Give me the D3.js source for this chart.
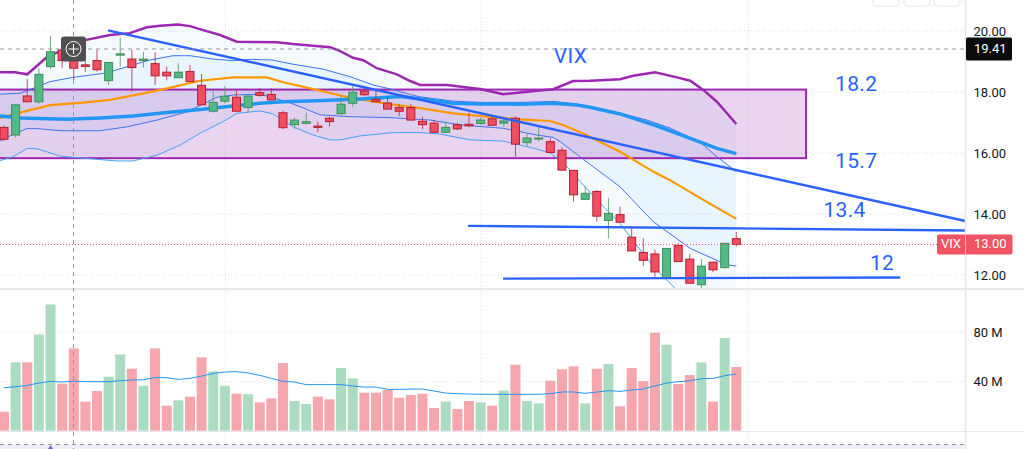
<!DOCTYPE html>
<html>
<head>
<meta charset="utf-8">
<script src="https://cdn.jsdelivr.net/npm/d3@7"></script>
<style>
    html, body { margin: 0; padding: 0; background: #fff; overflow: hidden; }
    svg { display: block; }
</style>
</head>
<body>
<svg id="world" width="1024" height="449"></svg>
<script>
'use strict';

// Candles
var opens = [16.84,16.59,17.87,17.68,18.83,19.38,19.18,18.89,19.03,18.37,19.21,19.08,19.03,18.93,18.65,18.47,18.67,18.22,17.37,17.70,17.83,17.49,17.98,17.92,17.32,16.93,16.97,16.88,17.14,17.29,17.63,18.03,17.76,17.64,17.49,17.49,17.04,16.98,16.68,16.93,16.94,16.97,17.12,16.98,17.14,16.34,16.46,16.37,16.09,15.43,14.48,14.74,13.79,13.98,13.24,12.74,12.69,11.92,12.97,12.52,11.68,12.42,12.24,13.19];
var highs = [16.90,17.58,18.42,18.78,19.84,19.50,19.40,19.21,19.40,18.97,19.79,19.38,19.32,19.30,18.83,18.94,18.89,18.59,18.07,18.20,18.04,17.87,18.13,18.12,17.39,17.16,17.32,17.03,17.19,17.90,18.21,18.20,18.10,17.85,17.60,17.60,17.19,17.08,17.03,16.99,17.32,17.16,17.21,17.19,17.21,16.65,16.86,16.48,16.19,15.43,14.92,14.79,14.53,14.24,13.55,13.20,12.84,12.87,13.04,12.69,12.52,12.42,13.04,13.41];
var lows = [16.40,16.51,17.68,17.61,18.75,18.78,18.39,18.66,18.67,18.23,18.83,18.01,18.80,18.23,18.39,18.45,18.34,17.58,17.32,17.63,17.37,17.32,17.85,17.74,16.78,16.78,16.94,16.68,16.86,17.24,17.50,17.87,17.68,17.44,17.21,17.08,16.78,16.68,16.67,16.75,16.86,16.92,16.91,16.86,15.88,16.21,16.37,16.02,15.41,14.40,14.48,13.75,13.20,13.73,12.79,12.30,11.94,11.92,12.44,11.73,11.56,12.09,12.22,12.93];
var closes = [16.45,17.58,17.68,18.58,19.32,19.03,18.78,18.84,18.73,18.97,19.25,18.80,19.08,18.53,18.53,18.65,18.34,17.58,17.66,17.86,17.37,17.87,17.89,17.74,16.83,17.08,17.03,16.84,17.03,17.60,17.99,17.91,17.68,17.44,17.37,17.08,16.93,16.68,16.84,16.79,16.89,17.08,16.91,17.05,16.29,16.49,16.49,16.02,15.44,14.63,14.68,13.93,14.02,13.73,12.79,12.48,12.10,12.87,12.44,11.73,12.29,12.17,13.04,13.00];

// Volume in millions, and its moving average
var volumes = [15.5,55.8,55.8,78.6,103.1,38.4,67.2,23.7,32.4,44.1,62.3,50.6,36.7,67.2,20.4,24.8,27.8,59.9,48.4,36.7,30.2,29.7,23.1,26.4,55.2,24.2,21.8,27.8,25.6,51.2,42.7,31,31,33.2,26.9,29.1,30.2,18.5,23.7,17.7,24.2,23.1,20.4,32.9,53.9,24.2,22.3,40.8,50.1,52.5,22.3,50.6,54.4,19.9,51.2,40.5,80,70.2,38.1,45.4,55.8,23.7,75.6,52];
var volumeAverage = [35.1,35.9,37,38.9,40.3,39.7,40.5,40,40,40,40.8,41.4,41.6,43.5,43.3,41.9,42.7,44.6,46.8,47.9,48.2,47.1,45.2,42.7,40.3,39.7,37.6,37.6,37.6,37.6,36.5,35.6,35.6,33.7,33.7,34,34,32.4,30.7,30.2,29.9,29.7,29.7,29.7,29.7,29.7,29.7,30.2,31.6,31.6,30.5,31.6,32.7,32.1,33.2,34,36.5,38.9,40,40.8,42.4,42.7,44.9,46.3];

// Overlay lines as [bar, price]
var outerUpper = [[-0.34,18.65],[0.95,18.65],[2,18.58],[3.67,19.14],[5.68,19.49],[6.97,19.7],[9.12,19.87],[10.84,19.93],[12.28,20.12],[13.43,20.17],[14.97,20.21],[16,20.16],[17.13,20.03],[18.59,19.87],[20.03,19.65],[23.47,19.63],[24.87,19.57],[28.06,19.47],[28.92,19.34],[30.03,19.12],[30.9,19.04],[32.07,18.78],[33.8,18.58],[34.94,18.36],[35.8,18.23],[38.1,18.23],[40.96,18.1],[42.94,17.93],[45.84,18.04],[47.25,18.09],[48.97,18.36],[50.43,18.37],[53,18.42],[54.13,18.53],[56.02,18.65],[57.89,18.48],[59.04,18.37],[60.15,18.07],[61.33,17.68],[63,16.95]];
var innerUpper = [[-0.34,17.93],[1.38,17.96],[2.5,18.12],[3.96,18.34],[5.94,18.48],[8.86,18.63],[10.6,18.83],[12.56,19.05],[14.54,19.19],[16,19.19],[17.99,19.08],[19.71,19.03],[21.17,19.07],[23.04,19.05],[24.87,18.91],[27.45,18.75],[29.78,18.5],[31.76,18.23],[33.22,18.1],[34.94,17.92],[35.8,17.84],[38.64,17.7],[40.96,17.66],[44.4,17.66],[47.25,17.69],[49.31,17.61],[50.43,17.52],[53,17.31],[55.3,17.08],[57.3,16.82],[59.9,16.35],[61.33,15.88],[63,15.39]];
var basisLine = [[-0.34,17.21],[1.38,17.15],[5.42,17.11],[8.26,17.15],[11.1,17.21],[14.03,17.33],[16.87,17.43],[19.71,17.54],[22.03,17.63],[24.01,17.68],[26.9,17.71],[30.64,17.77],[34.08,17.85],[36.66,17.74],[38.64,17.63],[40.96,17.61],[44.4,17.6],[47.25,17.63],[49.31,17.57],[50.43,17.5],[53,17.28],[56.16,16.89],[59.04,16.48],[61.33,16.15],[63,15.98]];
var orangeLine = [[-0.34,17.15],[0.69,17.26],[3.96,17.57],[6.8,17.65],[9.12,17.74],[11.7,17.93],[14.03,18.12],[16.87,18.37],[19.71,18.48],[22.61,18.48],[24.01,18.32],[26.9,18.07],[29.78,17.81],[32.62,17.63],[35.8,17.47],[38.64,17.3],[41.55,17.19],[44.4,17.1],[47,17.05],[48.1,16.92],[49.83,16.64],[53,16.04],[55.85,15.39],[57.3,15.11],[59.9,14.52],[63,13.84]];
var innerLower = [[-0.34,16.39],[0.26,16.52],[1.98,16.8],[2.84,16.8],[4.82,16.73],[8.26,16.73],[10.6,16.86],[13.17,17.08],[15.75,17.35],[18.33,17.83],[19.71,17.9],[22.03,17.93],[24.33,17.68],[25.73,17.48],[27.2,17.25],[29.78,17.19],[33.22,17.16],[36.66,17.08],[39.24,16.92],[42.94,16.81],[45.84,16.59],[47.25,16.51],[47.85,16.37],[50.69,15.55],[53,14.89],[55.85,13.75],[59.04,12.87],[62.2,12.33],[63,12.29]];
var outerLower = [[-0.34,15.75],[0.77,15.88],[2,16.15],[2.84,16.14],[4.82,15.9],[6.8,15.83],[9.72,15.74],[11.1,15.74],[13.17,15.93],[15.15,16.26],[16.87,16.65],[18.85,17.03],[20.05,17.3],[22.03,17.38],[23.15,17.28],[24.87,16.86],[26.6,16.59],[28.06,16.43],[28.92,16.43],[30.64,16.56],[33.48,16.67],[35.8,16.67],[37.52,16.62],[40.1,16.43],[42.94,16.39],[45.53,16.16],[47,16],[48.43,15.55],[49.57,15.06],[51.44,14.29],[53,13.69],[54.73,12.82],[56.16,12.16],[57.74,11.56],[63,10.52]];

// Hand drawn lines and box
var trendLine = [[8.95,20.02],[82.7,13.77]];
var supportLine = [[39.93,13.61],[82.7,13.46]];
var floorLine = [[42.94,11.88],[77.1,11.92]];
var boxBars = [-1,69];
var boxPrices = [18.08,15.83];

// Tick labels and notes
var priceTicks = [20,18,16,14,12];
var volumeTicks = [80,40];
var gridBars = [19,41,64];
var notes = [
    {text: 'VIX', bar: 47.3, price: 18.95},
    {text: '18.2', bar: 71.5, price: 18.03},
    {text: '15.7', bar: 71.5, price: 15.5},
    {text: '13.4', bar: 70.5, price: 13.9},
    {text: '12', bar: 74.5, price: 12.17}
];
var crosshairPrice = 19.41;
var lastPrice = 13.00;

var W = 1024,
    H = 449,
    AXIS_X = 965.5,
    PANE_BOTTOM = 289,
    BLUE = '#2962ff';

var x = d3.scaleLinear().domain([0, 63]).range([4, 736.3]),
    y = d3.scaleLinear().domain([20, 12]).range([31, 275]),
    v = d3.scaleLinear().domain([0, 80]).range([430.7, 332.7]);

var world = d3.select('#world');

var priceLine = d3.line()
    .x(function (d) { return x(d[0]); })
    .y(function (d) { return y(d[1]); });

function isUp(i) {
    return closes[i] >= opens[i];
}

function drawBase() {
    world.append('rect')
        .attr('x', 0).attr('y', 0)
        .attr('width', W).attr('height', H)
        .attr('fill', '#fff');

    // Strip at the bottom of the pane
    world.append('rect')
        .attr('x', 0).attr('y', 444.5)
        .attr('width', AXIS_X).attr('height', 5)
        .attr('fill', '#f1eef9');

    var grid = world.append('g')
        .attr('stroke', '#dcdfe6')
        .attr('stroke-dasharray', '1 2');

    grid.selectAll('.price-grid').data(priceTicks).enter().append('line')
        .attr('x1', 0).attr('x2', AXIS_X)
        .attr('y1', function (d) { return y(d); })
        .attr('y2', function (d) { return y(d); });

    grid.selectAll('.volume-grid').data(volumeTicks).enter().append('line')
        .attr('x1', 0).attr('x2', AXIS_X)
        .attr('y1', function (d) { return v(d); })
        .attr('y2', function (d) { return v(d); });

    grid.selectAll('.bar-grid').data(gridBars).enter().append('line')
        .attr('x1', function (d) { return x(d) + 0.5; })
        .attr('x2', function (d) { return x(d) + 0.5; })
        .attr('y1', 0).attr('y2', H);
}

function drawBands() {
    var bands = world.append('g').attr('clip-path', 'url(#price-pane)');

    function band(upper, lower, opacity) {
        bands.append('path')
            .attr('d', priceLine(upper.concat(lower.slice().reverse())) + 'Z')
            .attr('fill', '#2196f3')
            .attr('fill-opacity', opacity);
    }

    band(outerUpper, innerUpper, 0.05);
    band(innerUpper, innerLower, 0.1);
    band(innerLower, outerLower, 0.05);
}

function drawBox() {
    world.append('rect')
        .attr('x', x(boxBars[0]))
        .attr('y', y(boxPrices[0]))
        .attr('width', x(boxBars[1]) - x(boxBars[0]))
        .attr('height', y(boxPrices[1]) - y(boxPrices[0]))
        .attr('fill', '#9c27b0')
        .attr('fill-opacity', 0.2)
        .attr('stroke', '#9c27b0')
        .attr('stroke-width', 2);
}

function drawVolume() {
    world.append('g').selectAll('rect').data(volumes).enter().append('rect')
        .attr('x', function (d, i) { return x(i) - 5; })
        .attr('y', function (d) { return v(d); })
        .attr('width', 10)
        .attr('height', function (d) { return v(0) - v(d); })
        .attr('fill', function (d, i) { return isUp(i) ? '#abdbc1' : '#f6a6ad'; });

    world.append('path')
        .attr('d', d3.line()
            .x(function (d, i) { return x(i); })
            .y(function (d) { return v(d); })(volumeAverage))
        .attr('fill', 'none')
        .attr('stroke', '#2196f3')
        .attr('stroke-width', 1);
}

function drawOverlayLines() {
    var lines = world.append('g')
        .attr('clip-path', 'url(#price-pane)')
        .attr('fill', 'none');

    function add(data, color, width) {
        lines.append('path')
            .attr('d', priceLine(data))
            .attr('stroke', color)
            .attr('stroke-width', width);
    }

    add(outerUpper, '#9c27b0', 2.5);
    add(innerUpper, '#3d74f2', 1);
    add(innerLower, '#3d74f2', 1);
    add(outerLower, '#42a5f5', 1);
    add(orangeLine, '#ff9800', 2.2);
    add(basisLine, '#2196f3', 3.5);
}

function drawCandles() {
    var candles = world.append('g').selectAll('g').data(opens).enter().append('g');

    candles.append('line')
        .attr('x1', function (d, i) { return x(i); })
        .attr('x2', function (d, i) { return x(i); })
        .attr('y1', function (d, i) { return y(highs[i]); })
        .attr('y2', function (d, i) { return y(lows[i]); })
        .attr('stroke', function (d, i) { return isUp(i) ? '#4f9a5e' : '#b5273a'; })
        .attr('stroke-opacity', 0.8);

    candles.append('rect')
        .attr('x', function (d, i) { return x(i) - 4; })
        .attr('y', function (d, i) { return y(Math.max(opens[i], closes[i])); })
        .attr('width', 8)
        .attr('height', function (d, i) {
            return Math.max(1, y(Math.min(opens[i], closes[i])) - y(Math.max(opens[i], closes[i])));
        })
        .attr('fill', function (d, i) { return isUp(i) ? '#53b987' : '#ef4f60'; })
        .attr('stroke', function (d, i) { return isUp(i) ? '#3f8e5a' : '#b71c2c'; })
        .attr('stroke-width', 1);
}

function drawDrawings() {
    world.selectAll('.drawn').data([trendLine, supportLine, floorLine]).enter().append('path')
        .attr('d', priceLine)
        .attr('fill', 'none')
        .attr('stroke', BLUE)
        .attr('stroke-width', 2.4);

    world.selectAll('.note').data(notes).enter().append('text')
        .attr('x', function (d) { return x(d.bar); })
        .attr('y', function (d) { return y(d.price); })
        .attr('fill', BLUE)
        .attr('font-family', 'Roboto, sans-serif')
        .attr('font-size', 21)
        .attr('letter-spacing', 0.3)
        .text(function (d) { return d.text; });
}

function drawAxes() {
    // Pane separators
    var frame = world.append('g').attr('stroke', '#e6e8ee');
    frame.append('line')
        .attr('x1', AXIS_X).attr('x2', AXIS_X)
        .attr('y1', 0).attr('y2', H)
        .attr('stroke-width', 1.5);
    frame.append('line')
        .attr('x1', 0).attr('x2', W)
        .attr('y1', PANE_BOTTOM).attr('y2', PANE_BOTTOM)
        .attr('stroke-width', 2);
    frame.append('line')
        .attr('x1', 0).attr('x2', W)
        .attr('y1', 431.5).attr('y2', 431.5)
        .attr('stroke-width', 1);

    var priceAxis = d3.axisRight(y)
        .tickValues(priceTicks)
        .tickFormat(d3.format('.2f'))
        .tickSize(0)
        .tickPadding(8);

    var volumeAxis = d3.axisRight(v)
        .tickValues(volumeTicks)
        .tickFormat(function (d) { return d + ' M'; })
        .tickSize(0)
        .tickPadding(8);

    [priceAxis, volumeAxis].forEach(function (axis) {
        var g = world.append('g')
            .attr('transform', 'translate(' + AXIS_X + ',0)')
            .call(axis);
        g.select('.domain').remove();
        g.selectAll('text')
            .attr('fill', '#131722')
            .attr('font-family', 'Roboto, sans-serif')
            .attr('font-size', 13);
    });

    // Small toolbar buttons cut by the top edge
    world.selectAll('.button').data([873, 904, 934]).enter().append('rect')
        .attr('x', function (d) { return d; })
        .attr('y', -6)
        .attr('width', 26).attr('height', 12)
        .attr('rx', 3)
        .attr('fill', '#fff')
        .attr('stroke', '#e6e8ee');
}

function drawMarkers() {
    // Last price line and its label
    world.append('line')
        .attr('x1', 0).attr('x2', 937)
        .attr('y1', y(lastPrice)).attr('y2', y(lastPrice))
        .attr('stroke', '#ef5364')
        .attr('stroke-dasharray', '1 2');

    world.append('rect')
        .attr('x', 937).attr('y', y(lastPrice) - 10)
        .attr('width', 75.5).attr('height', 20)
        .attr('rx', 2)
        .attr('fill', '#ef5364');

    world.append('line')
        .attr('x1', AXIS_X).attr('x2', AXIS_X)
        .attr('y1', y(lastPrice) - 10).attr('y2', y(lastPrice) + 10)
        .attr('stroke', '#f7a9b1');

    world.append('text')
        .attr('x', 951).attr('y', y(lastPrice) + 0.5)
        .attr('text-anchor', 'middle')
        .attr('dominant-baseline', 'middle')
        .attr('fill', '#fff')
        .attr('font-family', 'Roboto, sans-serif')
        .attr('font-size', 13)
        .text('VIX');

    world.append('text')
        .attr('x', 974).attr('y', y(lastPrice) + 0.5)
        .attr('dominant-baseline', 'middle')
        .attr('fill', '#fff')
        .attr('font-family', 'Roboto, sans-serif')
        .attr('font-size', 13)
        .text(d3.format('.2f')(lastPrice));

    // Crosshair
    var cross = world.append('g')
        .attr('stroke', '#9598a1')
        .attr('stroke-dasharray', '4 4');
    cross.append('line')
        .attr('x1', 0).attr('x2', AXIS_X)
        .attr('y1', y(crosshairPrice)).attr('y2', y(crosshairPrice));
    cross.append('line')
        .attr('x1', 73.5).attr('x2', 73.5)
        .attr('y1', 0).attr('y2', H);
    cross.append('line')
        .attr('x1', 0).attr('x2', AXIS_X)
        .attr('y1', 444.5).attr('y2', 444.5);

    world.append('rect')
        .attr('x', AXIS_X + 0.5).attr('y', y(crosshairPrice) - 11.5)
        .attr('width', 46).attr('height', 23)
        .attr('rx', 1.5)
        .attr('fill', '#0b0b0b');

    world.append('text')
        .attr('x', 974).attr('y', y(crosshairPrice) + 0.5)
        .attr('dominant-baseline', 'middle')
        .attr('fill', '#fff')
        .attr('font-family', 'Roboto, sans-serif')
        .attr('font-size', 13)
        .text(d3.format('.2f')(crosshairPrice));

    // Plus button on the crosshair
    var plus = world.append('g')
        .attr('transform', 'translate(73.5,' + y(crosshairPrice) + ')');
    plus.append('rect')
        .attr('x', -12.5).attr('y', -12.5)
        .attr('width', 25).attr('height', 25)
        .attr('rx', 3)
        .attr('fill', '#505052');
    plus.append('circle')
        .attr('r', 7.5)
        .attr('fill', 'none')
        .attr('stroke', '#fff');
    plus.append('path')
        .attr('d', 'M-5,0H5M0,-5V5')
        .attr('stroke', '#fff');

    // Purple mark in the bottom strip
    world.append('path')
        .attr('d', 'M47,450L50.5,445.5L54,450Z')
        .attr('fill', '#7e57c2');
}

function draw() {
    world.append('defs').append('clipPath')
        .attr('id', 'price-pane')
        .append('rect')
        .attr('x', 0).attr('y', 0)
        .attr('width', AXIS_X).attr('height', PANE_BOTTOM);

    drawBase();
    drawBands();
    drawVolume();
    drawBox();
    drawOverlayLines();
    drawCandles();
    drawDrawings();
    drawAxes();
    drawMarkers();
}

draw();
</script>
</body>
</html>
